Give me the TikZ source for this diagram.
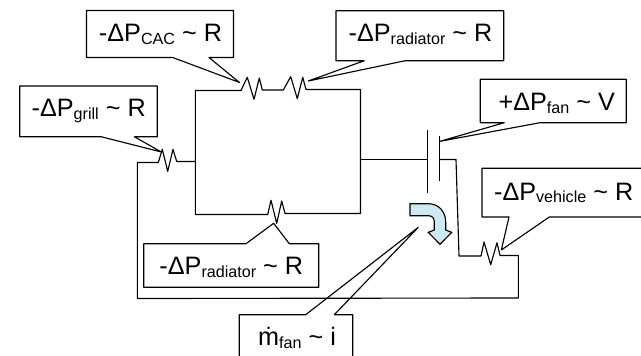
\documentclass[tikz,border=0pt]{standalone}
\usepackage{fontspec}
\setmainfont{Liberation Sans}
\newcommand{\subtxt}[1]{\raisebox{-2.2pt}{\fontsize{12.1}{14}\selectfont #1}}
\newcommand{\tildetxt}{\textasciitilde}
\definecolor{arrowblue}{HTML}{CDE9F1}
\tikzset{
  wire/.style={line width=0.85pt, line join=round},
  callout/.style={line width=0.85pt, line join=round},
  boxtext/.style={anchor=base, inner sep=0pt, font=\fontsize{18.9}{20}\selectfont}
}
\begin{document}
\begin{tikzpicture}[x=0.75pt,y=-0.75pt]
\useasboundingbox (0,0) rectangle (641,356);
\clip (0,0) rectangle (641,356);

% callouts
\draw [callout] (172.7,57.5) -- (239.5,82.5) -- (209,57.5) -- (233.5,57.5) -- (233.5,10.5) -- (86.5,10.5) -- (86.5,57.5) -- cycle;
\node [boxtext] (cac) at (160.5,41.7) {-ΔP\subtxt{CAC} \tildetxt{} R};

\draw [callout] (364.3,60.7) -- (308.3,81) -- (405.3,60.7) -- (503.7,60.7) -- (503.7,10.7) -- (336,10.7) -- (336,60.7) -- cycle;
\node [boxtext] (radtop) at (420.5,41.7) {-ΔP\subtxt{radiator} \tildetxt{} R};

\draw [callout] (101,136.7) -- (161.3,152) -- (134.3,136.7) -- (157.3,136.7) -- (157.3,86) -- (19.7,86) -- (19.7,136.7) -- cycle;
\node [boxtext] (grill) at (88.7,116.7) {-ΔP\subtxt{grill} \tildetxt{} R};

\draw [callout] (504.3,122.7) -- (440,141.3) -- (540,122.7) -- (626.3,122.7) -- (626.3,79.3) -- (480.3,79.3) -- (480.3,122.7) -- cycle;
\node [boxtext] (fan) at (556.7,111) {+ΔP\subtxt{fan} \tildetxt{} V};

\draw [callout] (509,217) -- (501.3,250) -- (549.3,217) -- (645,217) -- (645,168.3) -- (482,168.3) -- (482,217) -- cycle;
\node [boxtext] (vehicle) at (563.7,200) {-ΔP\subtxt{vehicle} \tildetxt{} R};

\draw [callout] (246,243.7) -- (273.7,223.3) -- (289.3,243.7) -- (318.7,243.7) -- (318.7,287.3) -- (143.7,287.3) -- (143.7,243.7) -- cycle;
\node [boxtext] (radbot) at (231.3,274.7) {-ΔP\subtxt{radiator} \tildetxt{} R};

\draw [callout] (305.7,314.7) -- (418.3,227.3) -- (334.3,314.7) -- (352.7,314.7) -- (352.7,362) -- (239.3,362) -- (239.3,314.7) -- cycle;
\node [boxtext] (mfan) at (297,345.3) {\.{m}\subtxt{fan} \tildetxt{} i};

% circuit
\draw [wire] (195.4,214.5) -- (195.4,90.5) -- (241,90.5) -- (247.3,77.3) -- (254,99.3) -- (259.3,78) -- (262.3,90) -- (283.3,90) -- (290.7,76.7) -- (297.3,98.7) -- (302.7,77.3) -- (306,89.5) -- (360.5,89.5) -- (360.5,213.5) -- (285,213.5) -- (281.7,201) -- (276.7,223.3) -- (271,200.3) -- (267.7,214.5) -- cycle;
\draw [wire] (360.5,159.5) -- (427.6,159.5);
\draw [wire] (427.6,130) -- (427.6,192.7);
\draw [wire] (439.4,136) -- (439.4,180.7);
\draw [wire] (439.4,159.5) -- (456,159.5) -- (459,256) -- (481,256) -- (484,242) -- (490.7,264.7) -- (497,242.7) -- (500,255.5) -- (518.4,255.5) -- (518.4,298) -- (137.4,298.5) -- (137.4,162.5) -- (158.3,162.5) -- (162.3,149.3) -- (167.7,171.3) -- (173,149.3) -- (176.7,161.5) -- (195.4,161.5);

% flow arrow
\draw [line width=0.85pt, line join=miter, fill=arrowblue] (410,203.7) -- (428.3,203.7) .. controls (439,203.7) and (445.7,212) .. (445.7,222) -- (445.7,230) -- (451.7,232.3) -- (440,244.3) -- (428.3,232.3) -- (434.3,230) -- (434.3,222) .. controls (434.3,218) and (432,215.7) .. (428.3,215.7) -- (410,215.7) -- cycle;
\end{tikzpicture}
\end{document}
